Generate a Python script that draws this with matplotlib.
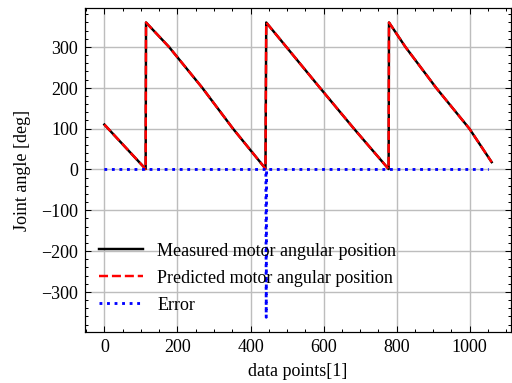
import numpy as np
import matplotlib
matplotlib.use("Agg")
import matplotlib.pyplot as plt

# breakpoints of the sawtooth (sample index, angle in deg)
idx = [0, 113, 114, 177, 268, 352, 441, 443, 477, 590, 683, 778, 779, 824, 908, 999, 1060]
measured = [110, 1, 360, 300, 200, 100, 2, 360, 323, 200, 100, 1, 360, 300, 200, 100, 18]
predicted = list(measured)

err_idx = [0, 442, 443, 444, 1052]
err_val = [0, 0, -362, 0, 0]

plt.rcParams.update({
    "font.family": "serif",
    "font.serif": ["Liberation Serif", "DejaVu Serif"],
    "mathtext.fontset": "stix",
    "font.size": 8.9,
    "axes.linewidth": 0.6,
    "xtick.direction": "in",
    "ytick.direction": "in",
    "xtick.top": True,
    "ytick.right": True,
    "xtick.minor.visible": True,
    "ytick.minor.visible": True,
    "xtick.major.size": 3,
    "xtick.minor.size": 1.5,
    "ytick.major.size": 3,
    "ytick.minor.size": 1.5,
    "xtick.major.width": 0.5,
    "xtick.minor.width": 0.5,
    "ytick.major.width": 0.5,
    "ytick.minor.width": 0.5,
    "axes.grid": True,
    "grid.color": "#bdbdbd",
    "grid.linewidth": 0.7,
    "legend.frameon": False,
})

fig, ax = plt.subplots(figsize=(3.5, 2.62), dpi=146.3)
fig.subplots_adjust(left=0.166, right=0.998, top=0.979, bottom=0.133)

ax.plot(idx, measured, color="black", lw=1.2, label="Measured motor angular position")
ax.plot(idx, predicted, color="red", ls="--", lw=1.2, label="Predicted motor angular position")
ax.plot(err_idx, err_val, color="blue", ls=":", lw=1.4, label="Error")

ax.set_xlabel("data points[1]", labelpad=3)
ax.set_ylabel("Joint angle [deg]", labelpad=5)
ax.set_xticks([0, 200, 400, 600, 800, 1000])
ax.set_yticks([-300, -200, -100, 0, 100, 200, 300])
ax.legend(loc="lower left", handlelength=2.4, labelspacing=0.55,
          borderaxespad=0.4, handletextpad=0.8, bbox_to_anchor=(0, 0.012))

fig.savefig("out.png", dpi=146.3)
